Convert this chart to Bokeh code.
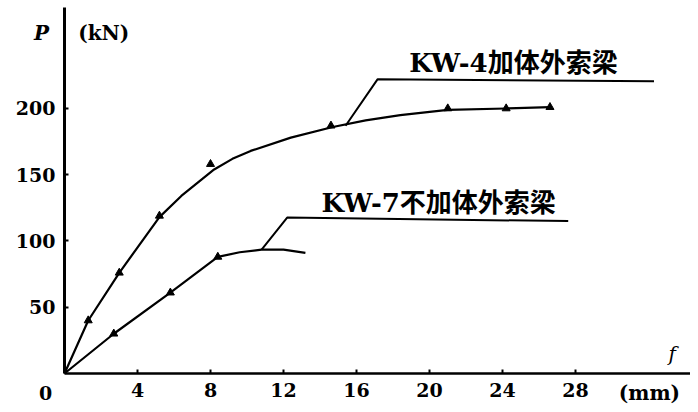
from bokeh.plotting import figure
from bokeh.models import Label, FixedTicker, Range1d
from bokeh.embed import file_html
from bokeh.resources import INLINE

# ---- data ----
kw4_line_x = [0, 1.3, 3.0, 5.2, 6.4, 8.2, 9.2, 10.2, 12.4, 14.7, 16.5, 18.4, 21.0, 24.2, 26.6]
kw4_line_y = [0, 40, 76, 118, 134, 154, 162, 168, 178, 186, 191, 195, 199, 200, 201]
kw4_pts_x = [1.3, 3.0, 5.2, 8.0, 14.6, 21.0, 24.2, 26.6]
kw4_pts_y = [40, 76, 119, 158, 187, 200, 200, 201]

kw7_line_x = [0, 2.7, 5.8, 8.4, 9.6, 10.8, 12.0, 13.2]
kw7_line_y = [0, 30, 61, 88, 91.5, 93.5, 93.5, 91]
kw7_pts_x = [2.7, 5.8, 8.4]
kw7_pts_y = [30, 61, 88]

kw4_leader_x = [15.4, 17.15, 32.3]
kw4_leader_y = [187, 222, 220.5]
kw7_leader_x = [10.8, 12.2, 27.6]
kw7_leader_y = [93.5, 117.7, 115]

x_ticks = [4, 8, 12, 16, 20, 24, 28]
y_ticks = [50, 100, 150, 200]

kw4_label = "KW-4加体外索梁"
kw7_label = "KW-7不加体外索梁"

SERIF = "DejaVu Serif"
MIXED = "DejaVu Serif, Noto Sans CJK SC"

p = figure(width=690, height=404, output_backend="svg", toolbar_location=None,
           x_range=Range1d(-3.507, 34.3), y_range=Range1d(-23.4, 281.5),
           min_border=0)
p.outline_line_color = None
p.grid.visible = False
p.background_fill_color = "white"

for ax in (p.xaxis[0], p.yaxis[0]):
    ax.fixed_location = 0
    ax.axis_line_color = "black"
    ax.major_tick_in = 4
    ax.major_tick_out = 0
    ax.minor_tick_line_color = None
    ax.major_tick_line_width = 2
    ax.major_label_text_font = SERIF
    ax.major_label_text_font_style = "bold"
    ax.major_label_text_font_size = "19px"
    ax.major_label_text_color = "black"
p.xaxis[0].axis_line_width = 2.5
p.yaxis[0].axis_line_width = 3
p.xaxis[0].bounds = (0, 34.3)
p.yaxis[0].bounds = (0, 276)
p.xaxis[0].ticker = FixedTicker(ticks=x_ticks)
p.yaxis[0].ticker = FixedTicker(ticks=y_ticks)
p.xaxis[0].major_label_standoff = 10
p.yaxis[0].major_label_standoff = 9

# curves
p.line(kw4_line_x, kw4_line_y, line_color="black", line_width=2.2, line_join="round")
p.line(kw7_line_x, kw7_line_y, line_color="black", line_width=2.2, line_join="round")
p.scatter(kw4_pts_x, kw4_pts_y, marker="triangle", size=8, color="black")
p.scatter(kw7_pts_x, kw7_pts_y, marker="triangle", size=8, color="black")

# leaders
p.line(kw4_leader_x, kw4_leader_y, line_color="black", line_width=2)
p.line(kw7_leader_x, kw7_leader_y, line_color="black", line_width=2)

# labels
def lab(x, y, text, size, style="bold", align="center", font=SERIF, baseline="middle"):
    p.add_layout(Label(x=x, y=y, text=text, text_font=font, text_font_size=size,
                       text_font_style=style, text_align=align, text_baseline=baseline,
                       text_color="black"))

lab(24.6, 234.7, kw4_label, "26px", font=MIXED)
lab(20.5, 129, kw7_label, "26px", font=MIXED)
lab(-1.26, 257, "P", "20px", style="bold italic")
lab(0.75, 257, "(kN)", "20px", align="left")
lab(33.3, 15, "f", "20px", style="italic")
lab(32.05, -15, "(mm)", "20px")
lab(-1.04, -14.8, "0", "19px")

open("out.html", "w").write(file_html(p, INLINE))
